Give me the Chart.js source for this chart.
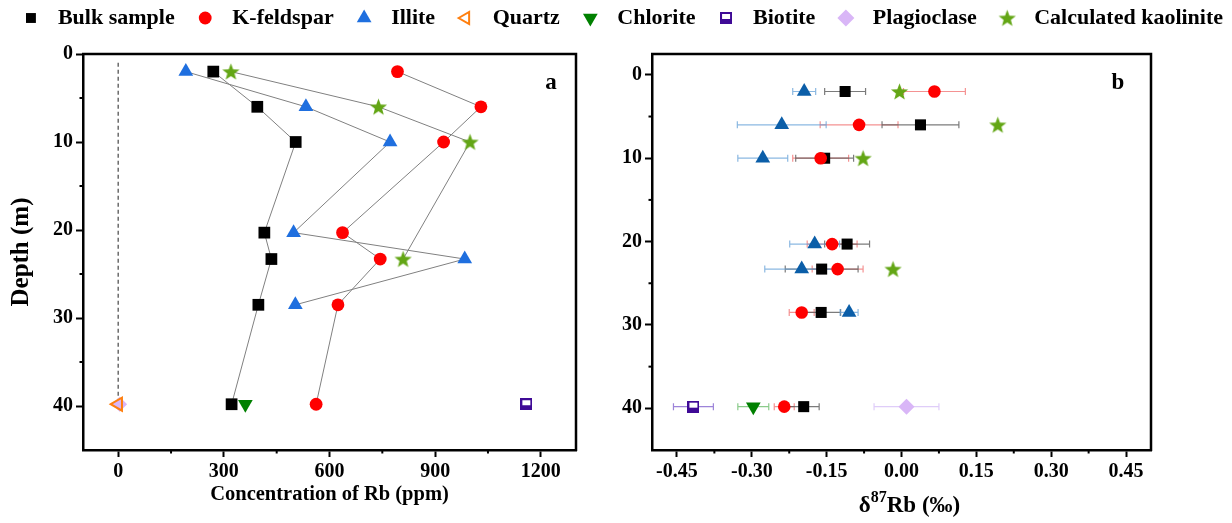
<!DOCTYPE html>
<html><head><meta charset="utf-8">
<script src="https://cdn.jsdelivr.net/npm/chart.js@4.4.1/dist/chart.umd.min.js"></script>
<style>
html,body{margin:0;padding:0;background:#fff;}
#wrap{position:relative;width:1232px;height:523px;background:#fff;}
canvas{position:absolute;left:0;top:0;}
</style></head><body>
<div id="wrap"><canvas id="ca" width="1232" height="523"></canvas><canvas id="cb" width="1232" height="523"></canvas></div>
<script>
// ---------- data ----------
const depths = [2, 6, 10, 20.3, 23.3, 28.5, 39.8];
const illiteDepths = [2, 6, 10, 20.3, 23.3, 28.5];
const kaolDepths = [2, 6, 10, 23.3];
const baseDepth = [39.8];
const guideDepths = [1, 39.8];
const guideRb = [0, 0];

// panel a : Rb concentration (ppm)
const bulkRb = [270, 395, 504, 415, 435, 398, 322];
const kfsRb = [793, 1030, 924, 637, 744, 624, 562];
const illiteRb = [192, 533, 772, 498, 984, 503];
const quartzRb = [0];
const chloriteRb = [361];
const biotiteRb = [1159];
const plagRb = [4];
const kaolRb = [320, 739, 999, 809];

// panel b : delta87Rb (permil) and 2SD
const bulkD = [-0.113, 0.038, -0.154, -0.109, -0.160, -0.161, -0.196];
const bulkE = [0.041, 0.077, 0.058, 0.045, 0.073, 0.039, 0.031];
const kfsD = [0.066, -0.085, -0.162, -0.139, -0.128, -0.200, -0.235];
const kfsE = [0.062, 0.078, 0.056, 0.050, 0.051, 0.025, 0.020];
const illiteD = [-0.195, -0.240, -0.278, -0.174, -0.200, -0.105];
const illiteE = [0.023, 0.089, 0.050, 0.050, 0.074, 0.018];
const kaolD = [-0.004, 0.193, -0.077, -0.017];
const chloriteD = [-0.297];
const chloriteE = [0.031];
const biotiteD = [-0.417];
const biotiteE = [0.040];
const plagD = [0.010];
const plagE = [0.065];

// tick labels
const rbTicks = [0, 300, 600, 900, 1200];
const depthTicks = [0, 10, 20, 30, 40];
const deltaTicks = [-0.45, -0.30, -0.15, 0.00, 0.15, 0.30, 0.45];

// ---------- helpers ----------
const FONT = "'Liberation Serif','Times New Roman',serif";
const pts = (xs, ys) => xs.map((x, i) => ({x: x, y: ys[i]}));

function makeStar(color, size) {
  const c = document.createElement('canvas');
  c.width = size; c.height = size;
  const g = c.getContext('2d');
  const R = size / 2 - 0.5, r = R * 0.42, cx = size / 2, cy = size / 2 + R * 0.09;
  g.beginPath();
  for (let i = 0; i < 10; i++) {
    const a = -Math.PI / 2 + i * Math.PI / 5;
    const rr = i % 2 ? r : R;
    g.lineTo(cx + rr * Math.cos(a), cy + rr * Math.sin(a));
  }
  g.closePath(); g.fillStyle = color; g.fill();
  return c;
}
function makeHalfSquare(color, size) {
  const c = document.createElement('canvas');
  c.width = size; c.height = size;
  const g = c.getContext('2d');
  g.fillStyle = color; g.fillRect(0, 0, size, size);
  g.fillStyle = '#fff'; g.fillRect(2, 2, size - 4, Math.round(size * 0.38));
  return c;
}
const starImg = makeStar('#63a615', 19);
const bioImg = makeHalfSquare('#3f0a96', 12);

const C = {
  bulk: '#000000', kfs: '#ff0000', illiteA: '#1f6fdf', illiteB: '#0b5ea8',
  quartz: '#ff7f0e', chlorite: '#008000', biotite: '#3f0a96', plag: '#d9b6f7', kaol: '#63a615'
};

const tickFont = {family: FONT, size: 20, weight: 'bold'};

function axisCommon(ticksArr, fmt) {
  return {
    type: 'linear',
    afterBuildTicks: s => { s.ticks = ticksArr.map(v => ({value: v})); },
    ticks: {font: tickFont, color: '#000', padding: 3, callback: fmt || (v => String(v))},
    grid: {display: true, drawOnChartArea: false, drawTicks: true, tickLength: 7, tickWidth: 2, tickColor: '#000'},
    border: {display: true, color: '#000', width: 2.5}
  };
}

// ---------- plugins ----------
const framePlugin = {
  id: 'frame',
  afterDraw(chart, args, opts) {
    const {ctx, chartArea: a} = chart;
    ctx.save();
    ctx.strokeStyle = '#000'; ctx.lineWidth = 2.5;
    ctx.beginPath();
    ctx.moveTo(a.left - 1, a.top); ctx.lineTo(a.right, a.top); ctx.lineTo(a.right, a.bottom + 1);
    ctx.stroke();
    ctx.font = 'bold 23px ' + FONT; ctx.fillStyle = '#000';
    ctx.textAlign = 'center'; ctx.textBaseline = 'middle';
    ctx.fillText(opts.letter, opts.lx, opts.ly);
    ctx.restore();
  }
};

const minorPlugin = {
  id: 'minorTicks',
  afterDraw(chart) {
    const ctx = chart.ctx;
    ctx.save(); ctx.strokeStyle = '#000'; ctx.lineWidth = 2;
    ['x', 'y'].forEach(id => {
      const s = chart.scales[id];
      const maj = s.ticks.map(t => t.value);
      const step = maj[1] - maj[0];
      const cand = [maj[0] - step / 2].concat(maj.map(v => v + step / 2));
      const lo = Math.min(s.min, s.max), hi = Math.max(s.min, s.max);
      cand.filter(v => v > lo + 1e-9 && v < hi - 1e-9).forEach(v => {
        const p = s.getPixelForValue(v);
        ctx.beginPath();
        if (id === 'x') { ctx.moveTo(p, s.top); ctx.lineTo(p, s.top + 3.5); }
        else { ctx.moveTo(s.right, p); ctx.lineTo(s.right - 3.5, p); }
        ctx.stroke();
      });
    });
    ctx.restore();
  }
};

const legendPlugin = {
  id: 'topLegend',
  afterDraw(chart) {
    const H = Chart.helpers;
    const ctx = chart.ctx;
    const items = chart.data.datasets.filter(d => d.inLegend);
    ctx.save();
    ctx.font = 'bold 22px ' + FONT;
    const g1 = 27, g2 = 30.5, y = 18;
    const widths = items.map(d => ctx.measureText(d.label).width);
    const total = widths.reduce((a, b) => a + b, 0) + items.length * g1 + (items.length - 1) * g2;
    let x = 627 - total / 2;
    items.forEach((d, i) => {
      ctx.save();
      ctx.fillStyle = d.backgroundColor; ctx.strokeStyle = d.borderColor;
      ctx.lineWidth = d.borderWidth || 0;
      H.drawPoint(ctx, {pointStyle: d.pointStyle, rotation: d.rotation || 0, radius: d.legendRadius || d.pointRadius, borderWidth: d.borderWidth || 0}, x, y);
      ctx.restore();
      ctx.fillStyle = '#000'; ctx.textAlign = 'left'; ctx.textBaseline = 'middle';
      ctx.fillText(d.label, x + g1, y);
      x += g1 + widths[i] + g2;
    });
    ctx.restore();
  }
};

const errorPlugin = {
  id: 'errorBars',
  beforeDatasetsDraw(chart) {
    const ctx = chart.ctx, xs = chart.scales.x, ys = chart.scales.y;
    ctx.save(); ctx.lineWidth = 1.2;
    chart.data.datasets.forEach(d => {
      if (!d.errorX) return;
      ctx.strokeStyle = d.errColor;
      d.data.forEach((p, i) => {
        const e = d.errorX[i];
        const x0 = xs.getPixelForValue(p.x - e), x1 = xs.getPixelForValue(p.x + e), y = ys.getPixelForValue(p.y);
        ctx.beginPath();
        ctx.moveTo(x0, y); ctx.lineTo(x1, y);
        ctx.moveTo(x0, y - 3.5); ctx.lineTo(x0, y + 3.5);
        ctx.moveTo(x1, y - 3.5); ctx.lineTo(x1, y + 3.5);
        ctx.stroke();
      });
    });
    ctx.restore();
  }
};

const deltaTitlePlugin = {
  id: 'deltaTitle',
  afterDraw(chart) {
    const ctx = chart.ctx, a = chart.chartArea;
    ctx.save(); ctx.fillStyle = '#000'; ctx.textBaseline = 'alphabetic'; ctx.textAlign = 'left';
    const big = 'bold 23px ' + FONT, small = 'bold 16px ' + FONT;
    ctx.font = big; const w1 = ctx.measureText('δ').width, w3 = ctx.measureText('Rb (‰)').width;
    ctx.font = small; const w2 = ctx.measureText('87').width;
    const total = w1 + w2 + w3;
    let x = (a.left + a.right) / 2 + 8 - total / 2;
    const base = a.bottom + 62;
    ctx.font = big; ctx.fillText('δ', x, base); x += w1;
    ctx.font = small; ctx.fillText('87', x, base - 10); x += w2;
    ctx.font = big; ctx.fillText('Rb (‰)', x, base);
    ctx.restore();
  }
};

// ---------- chart a ----------
const lineStyle = {showLine: true, pointRadius: 0, borderColor: '#808080', borderWidth: 1, order: 2, fill: false};
new Chart(document.getElementById('ca'), {
  type: 'scatter',
  data: {datasets: [
    {label: 'Bulk sample', inLegend: true, data: pts(bulkRb, depths), pointStyle: 'rect', pointRadius: 8.3, legendRadius: 7, backgroundColor: C.bulk, borderColor: C.bulk, borderWidth: 0, order: 1},
    {label: 'K-feldspar', inLegend: true, data: pts(kfsRb, depths), pointStyle: 'circle', pointRadius: 6.4, legendRadius: 6.4, backgroundColor: C.kfs, borderColor: C.kfs, borderWidth: 0, order: 1},
    {label: 'Illite', inLegend: true, data: pts(illiteRb, illiteDepths), pointStyle: 'triangle', pointRadius: 8.5, legendRadius: 8.5, backgroundColor: C.illiteA, borderColor: C.illiteA, borderWidth: 0, order: 1},
    {label: 'Quartz', inLegend: true, data: pts(quartzRb, baseDepth), pointStyle: 'triangle', rotation: -90, pointRadius: 7.5, legendRadius: 7, backgroundColor: 'rgba(255,255,255,0)', borderColor: C.quartz, borderWidth: 2, order: 1},
    {label: 'Chlorite', inLegend: true, data: pts(chloriteRb, baseDepth), pointStyle: 'triangle', rotation: 180, pointRadius: 8.5, legendRadius: 8.5, backgroundColor: C.chlorite, borderColor: C.chlorite, borderWidth: 0, order: 1},
    {label: 'Biotite', inLegend: true, data: pts(biotiteRb, baseDepth), pointStyle: bioImg, pointRadius: 6, backgroundColor: C.biotite, borderColor: C.biotite, borderWidth: 0, order: 1},
    {label: 'Plagioclase', inLegend: true, data: pts(plagRb, baseDepth), pointStyle: 'rectRot', pointRadius: 7.5, legendRadius: 8.5, backgroundColor: C.plag, borderColor: C.plag, borderWidth: 0, order: 1},
    {label: 'Calculated kaolinite', inLegend: true, data: pts(kaolRb, kaolDepths), pointStyle: starImg, pointRadius: 9, backgroundColor: C.kaol, borderColor: C.kaol, borderWidth: 0, order: 1},
    Object.assign({label: 'bulk line', data: pts(bulkRb, depths)}, lineStyle),
    Object.assign({label: 'kfs line', data: pts(kfsRb, depths)}, lineStyle),
    Object.assign({label: 'illite line', data: pts(illiteRb, illiteDepths)}, lineStyle),
    Object.assign({label: 'kaol line', data: pts(kaolRb, kaolDepths)}, lineStyle),
    Object.assign({label: 'zero line', data: pts(guideRb, guideDepths)}, lineStyle, {borderDash: [4, 3], borderColor: '#6b6b6b', borderWidth: 1.5})
  ]},
  options: {
    responsive: false, animation: false, events: [],
    layout: {padding: {top: 54, right: 656, left: 0, bottom: 0}},
    plugins: {legend: {display: false}, tooltip: {enabled: false},
      frame: {letter: 'a', lx: 551, ly: 83}},
    scales: {
      x: Object.assign(axisCommon(rbTicks), {position: 'bottom', min: -100, max: 1300,
        title: {display: true, text: 'Concentration of Rb (ppm)', font: {family: FONT, size: 20.5, weight: 'bold'}, color: '#000', padding: {top: 0, bottom: 15.5}},
        afterFit: s => { s.height = 73; }}),
      y: Object.assign(axisCommon(depthTicks), {position: 'left', min: 0, max: 45, reverse: true,
        title: {display: true, text: 'Depth (m)', font: {family: FONT, size: 25, weight: 'bold'}, color: '#000', padding: {top: 7, bottom: 0}},
        afterFit: s => { s.width = 83; }})
    }
  },
  plugins: [errorPlugin, framePlugin, minorPlugin, legendPlugin]
});

// ---------- chart b ----------
new Chart(document.getElementById('cb'), {
  type: 'scatter',
  data: {datasets: [
    {label: 'K-feldspar', data: pts(kfsD, depths), errorX: kfsE, errColor: 'rgba(240,110,110,0.75)', pointStyle: 'circle', pointRadius: 6.3, backgroundColor: C.kfs, borderColor: C.kfs, borderWidth: 0},
    {label: 'Bulk sample', data: pts(bulkD, depths), errorX: bulkE, errColor: 'rgba(90,90,90,0.8)', pointStyle: 'rect', pointRadius: 7.8, backgroundColor: C.bulk, borderColor: C.bulk, borderWidth: 0},
    {label: 'Illite', data: pts(illiteD, illiteDepths), errorX: illiteE, errColor: 'rgba(100,160,215,0.75)', pointStyle: 'triangle', pointRadius: 8.5, backgroundColor: C.illiteB, borderColor: C.illiteB, borderWidth: 0},
    {label: 'Calculated kaolinite', data: pts(kaolD, kaolDepths), pointStyle: starImg, pointRadius: 9, backgroundColor: C.kaol, borderColor: C.kaol, borderWidth: 0},
    {label: 'Chlorite', data: pts(chloriteD, baseDepth), errorX: chloriteE, errColor: 'rgba(110,190,110,0.8)', pointStyle: 'triangle', rotation: 180, pointRadius: 8.5, backgroundColor: C.chlorite, borderColor: C.chlorite, borderWidth: 0},
    {label: 'Biotite', data: pts(biotiteD, baseDepth), errorX: biotiteE, errColor: 'rgba(140,110,210,0.85)', pointStyle: bioImg, pointRadius: 6, backgroundColor: C.biotite, borderColor: C.biotite, borderWidth: 0},
    {label: 'Plagioclase', data: pts(plagD, baseDepth), errorX: plagE, errColor: 'rgba(220,200,248,0.9)', pointStyle: 'rectRot', pointRadius: 8, backgroundColor: C.plag, borderColor: C.plag, borderWidth: 0}
  ]},
  options: {
    responsive: false, animation: false, events: [],
    layout: {padding: {top: 54, right: 81, left: 590, bottom: 0}},
    plugins: {legend: {display: false}, tooltip: {enabled: false},
      frame: {letter: 'b', lx: 1118, ly: 83}},
    scales: {
      x: Object.assign(axisCommon(deltaTicks, v => Number(v).toFixed(2)), {position: 'bottom', min: -0.5, max: 0.5,
        title: {display: false},
        afterFit: s => { s.height = 73; }}),
      y: Object.assign(axisCommon(depthTicks), {position: 'left', min: -2.5, max: 45, reverse: true,
        title: {display: false},
        afterFit: s => { s.width = 62; }})
    }
  },
  plugins: [errorPlugin, framePlugin, minorPlugin, deltaTitlePlugin]
});
</script></body></html>
